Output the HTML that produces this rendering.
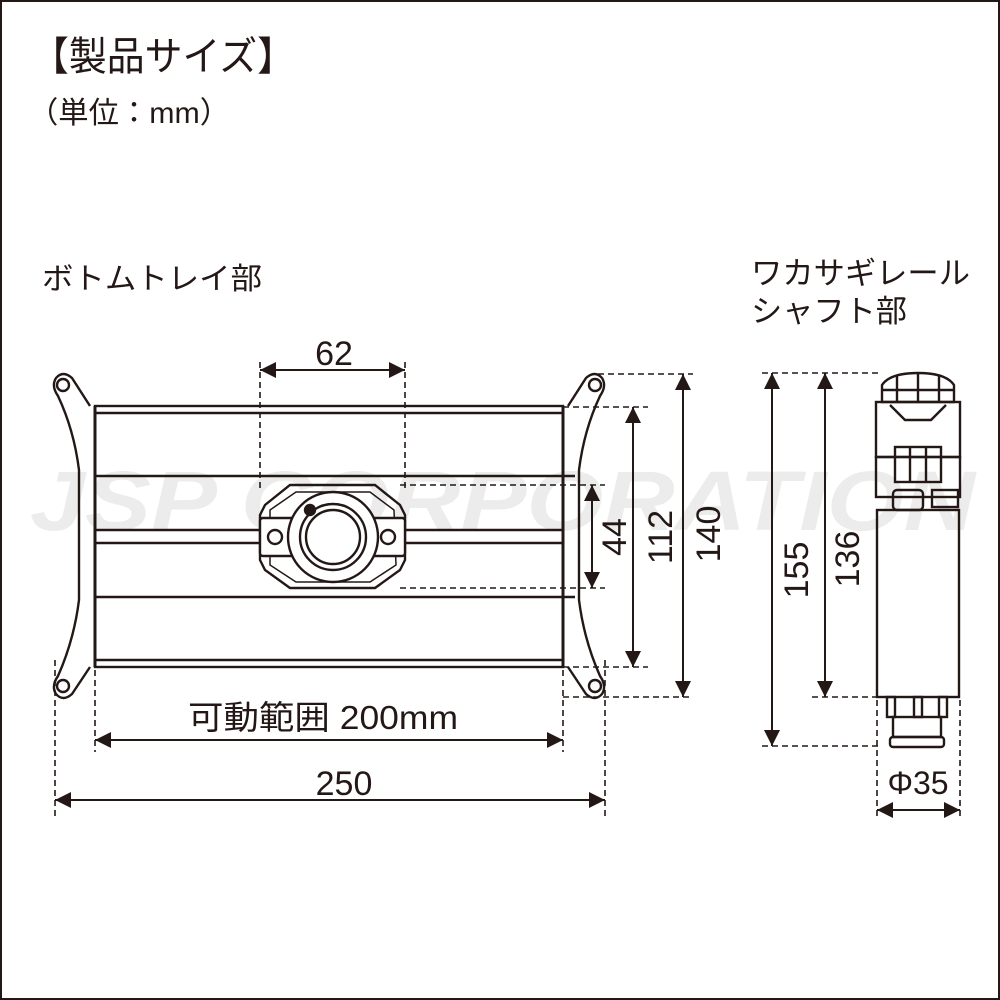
<!DOCTYPE html>
<html><head><meta charset="utf-8"><style>
html,body{margin:0;padding:0;background:#fff}
svg{display:block}
text{font-family:"Liberation Sans","Noto Sans CJK JP",sans-serif;fill:#231815}
</style></head><body>
<svg width="1000" height="1000" viewBox="0 0 1000 1000" xmlns="http://www.w3.org/2000/svg">
<defs>
<marker id="a" viewBox="0 0 10 10" refX="10" refY="5" markerWidth="16" markerHeight="16" markerUnits="userSpaceOnUse" orient="auto-start-reverse"><path d="M0,0 L10,5 L0,10z" fill="#231815"/></marker>
</defs>
<rect x="1" y="1" width="998" height="998" fill="#fff" stroke="#231815" stroke-width="2"/>
<text x="30" y="530" font-size="84" font-weight="bold" font-style="italic" style="fill:#ececec" textLength="945" lengthAdjust="spacingAndGlyphs">JSP CORPORATION</text>

<text x="31" y="70" font-size="40" textLength="264" lengthAdjust="spacingAndGlyphs">【製品サイズ】</text>
<text x="28" y="123" font-size="30" textLength="202" lengthAdjust="spacingAndGlyphs">（単位：mm）</text>
<text x="42" y="289" font-size="30" textLength="220" lengthAdjust="spacingAndGlyphs">ボトムトレイ部</text>
<text x="751" y="284" font-size="31" textLength="219" lengthAdjust="spacingAndGlyphs">ワカサギレール</text>
<text x="751" y="322" font-size="31" textLength="156" lengthAdjust="spacingAndGlyphs">シャフト部</text>

<g fill="none" stroke="#231815" stroke-width="2.4">
<rect x="95" y="406" width="468" height="261"/>
<line x1="95" y1="413" x2="563" y2="413"/>
<line x1="95" y1="660" x2="563" y2="660"/>
<line x1="95" y1="476" x2="575" y2="476"/>
<line x1="95" y1="530" x2="260" y2="530"/><line x1="405" y1="530" x2="563" y2="530"/>
<line x1="95" y1="543" x2="260" y2="543"/><line x1="405" y1="543" x2="563" y2="543"/>
<line x1="95" y1="597" x2="575" y2="597"/>
<line x1="563" y1="406" x2="563" y2="667" stroke-width="3"/>
<line x1="95" y1="406" x2="95" y2="667" stroke-width="3"/>
<path d="M90,406 L72,378 Q63,370 56,378 Q51,386 58,396 Q74,430 79,470 L79,600 Q74,640 58,676 Q51,686 56,694 Q63,702 72,694 L90,667"/>
<circle cx="63" cy="385" r="6"/><circle cx="63" cy="686" r="6"/>
<path d="M568,406 L586,378 Q595,370 602,378 Q607,386 600,396 Q584,430 579,470 L579,600 Q584,640 600,676 Q607,686 602,694 Q595,702 586,694 L568,667"/>
<circle cx="595" cy="385" r="6"/><circle cx="595" cy="686" r="6"/>
<path d="M290,485 L375,485 L400,505 L405,515 L405,560 L400,570 L375,588 L290,588 L265,570 L260,560 L260,515 L265,505 Z"/>
<path d="M296,492 L370,492 L394,510 L396,565 L370,582 L296,582 L270,565 L270,510 Z" stroke-width="1.5"/>
<rect x="260" y="518" width="35" height="38" rx="3" fill="#fff"/>
<rect x="370" y="518" width="35" height="38" rx="3" fill="#fff"/>
<circle cx="275" cy="537" r="7"/><circle cx="388" cy="537" r="7"/>
<circle cx="333" cy="537" r="45" fill="#fff"/>
<circle cx="333" cy="537" r="33"/>
<circle cx="333" cy="537" r="27"/>
<circle cx="310" cy="510" r="5" fill="#231815"/>
</g>

<g fill="none" stroke="#231815" stroke-width="1.6" stroke-dasharray="6,4">
<line x1="260" y1="362" x2="260" y2="490"/><line x1="405" y1="362" x2="405" y2="490"/>
<line x1="400" y1="485" x2="605" y2="485"/><line x1="400" y1="588" x2="605" y2="588"/>
<line x1="563" y1="407" x2="648" y2="407"/><line x1="563" y1="667" x2="648" y2="667"/>
<line x1="598" y1="374" x2="693" y2="374"/><line x1="563" y1="697" x2="693" y2="697"/>
<line x1="95" y1="670" x2="95" y2="752"/><line x1="563" y1="670" x2="563" y2="752"/>
<line x1="55" y1="660" x2="55" y2="818"/><line x1="605" y1="660" x2="605" y2="818"/>
<line x1="762" y1="373" x2="880" y2="373"/><line x1="762" y1="746" x2="880" y2="746"/>
<line x1="812" y1="697" x2="877" y2="697"/>
<line x1="877" y1="700" x2="877" y2="818"/><line x1="960" y1="700" x2="960" y2="818"/>
</g>
<g stroke="#231815" stroke-width="2" marker-start="url(#a)" marker-end="url(#a)">
<line x1="260" y1="370" x2="405" y2="370"/>
<line x1="592" y1="485" x2="592" y2="588"/>
<line x1="633" y1="407" x2="633" y2="667"/>
<line x1="683" y1="374" x2="683" y2="697"/>
<line x1="95" y1="740" x2="563" y2="740"/>
<line x1="55" y1="800" x2="605" y2="800"/>
<line x1="772" y1="373" x2="772" y2="746"/>
<line x1="825" y1="373" x2="825" y2="697"/>
<line x1="877" y1="810" x2="960" y2="810"/>
</g>
<text x="334" y="365" font-size="34" text-anchor="middle">62</text>
<text x="188" y="729" font-size="33" textLength="270" lengthAdjust="spacingAndGlyphs">可動範囲 200mm</text>
<text x="344" y="795" font-size="34" text-anchor="middle">250</text>
<text x="918" y="794" font-size="32" text-anchor="middle">Φ35</text>
<text transform="translate(626,537) rotate(-90)" font-size="34" text-anchor="middle">44</text>
<text transform="translate(672,537) rotate(-90)" font-size="34" text-anchor="middle">112</text>
<text transform="translate(720,534) rotate(-90)" font-size="34" text-anchor="middle">140</text>
<text transform="translate(808,570) rotate(-90)" font-size="34" text-anchor="middle">155</text>
<text transform="translate(859,559) rotate(-90)" font-size="34" text-anchor="middle">136</text>

<g fill="none" stroke="#231815" stroke-width="2.4">
<path d="M882,402 L882,385 Q890,373 918,373 Q946,373 954,385 L954,402 Z"/>
<line x1="897" y1="376" x2="897" y2="402"/><line x1="918" y1="373" x2="918" y2="402"/><line x1="939" y1="376" x2="939" y2="402"/>
<line x1="882" y1="390" x2="954" y2="390"/>
<rect x="876" y="402" width="84" height="55"/>
<path d="M890,405 L905,420 L931,420 L946,405"/>
<rect x="895" y="447" width="46" height="35"/>
<line x1="910" y1="447" x2="910" y2="482"/><line x1="926" y1="447" x2="926" y2="482"/>
<rect x="876" y="457" width="84" height="40"/>
<rect x="893" y="490" width="30" height="20" rx="4"/>
<rect x="932" y="490" width="26" height="17"/>
<rect x="877" y="510" width="82" height="187"/>
<rect x="887" y="697" width="8" height="20"/><rect x="914" y="697" width="8" height="20"/><rect x="939" y="697" width="8" height="20"/>
<rect x="893" y="717" width="48" height="20"/>
<rect x="890" y="737" width="54" height="10" rx="3"/>
</g>
</svg>
</body></html>
